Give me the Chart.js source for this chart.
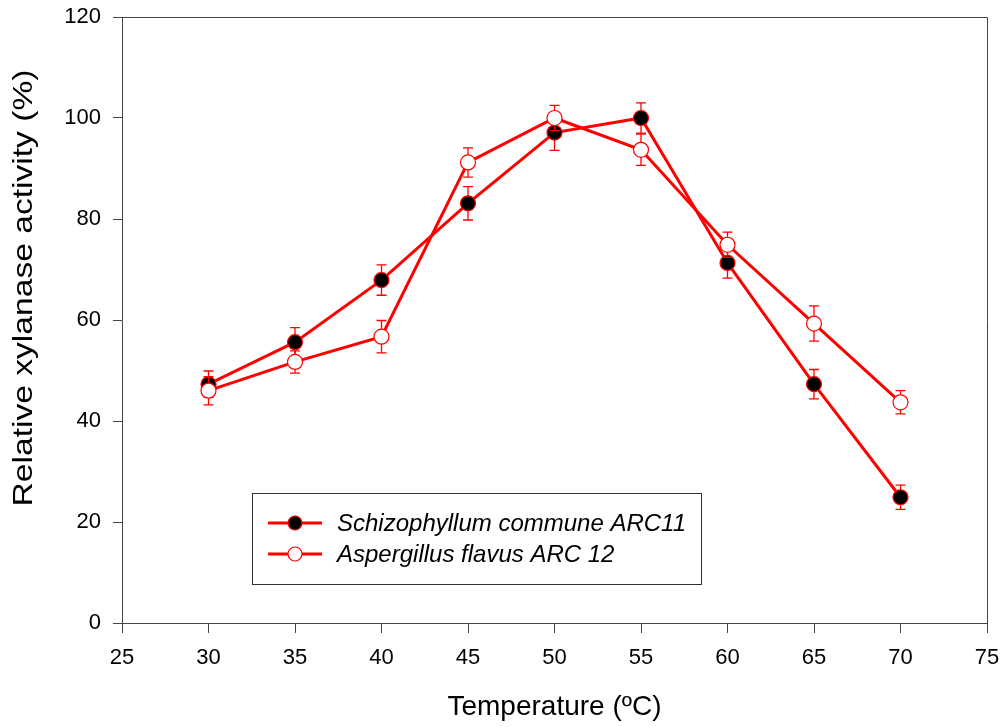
<!DOCTYPE html>
<html>
<head>
<meta charset="utf-8">
<script src="https://cdn.jsdelivr.net/npm/chart.js@4.4.0/dist/chart.umd.min.js"></script>
<style>
  html, body { margin: 0; padding: 0; background: #fff; }
</style>
</head>
<body>
<canvas id="chart" width="1001" height="727"></canvas>
<script>
// data
const temperatures = [30, 35, 40, 45, 50, 55, 60, 65, 70]
const schizoValues = [47.3, 55.6, 67.9, 83.1, 97.1, 100, 71.3, 47.3, 24.9]
const schizoErrors = [2.6, 2.9, 3.0, 3.3, 3.5, 3.0, 3.0, 2.9, 2.4]
const aspergValues = [46.0, 51.7, 56.7, 91.2, 100, 93.7, 74.9, 59.3, 43.7]
const aspergErrors = [2.8, 2.2, 3.2, 2.9, 2.5, 3.1, 2.5, 3.5, 2.3]
const seriesNames = ["Schizophyllum commune ARC11", "Aspergillus flavus ARC 12"]
const xTitle = "Temperature (ºC)"
const yTitle = "Relative xylanase activity (%)"

const FONT = '"Liberation Sans", Arial, sans-serif'
const RED = "#ff0000"
const AXIS = "#444"

// error bars, drawn just before each dataset so its own markers sit on top
const errorBars = {
  id: "errorBars",
  beforeDatasetDraw(chart, args) {
    const ds = chart.data.datasets[args.index]
    if (!ds.errors) return
    const xs = chart.scales.x, ys = chart.scales.y
    const ctx = chart.ctx
    ctx.save()
    ctx.strokeStyle = RED
    ctx.lineWidth = 1.3
    ds.data.forEach((p, i) => {
      const px = xs.getPixelForValue(p.x)
      const top = ys.getPixelForValue(p.y + ds.errors[i])
      const bot = ys.getPixelForValue(p.y - ds.errors[i])
      ctx.beginPath()
      ctx.moveTo(px, top); ctx.lineTo(px, bot)
      ctx.moveTo(px - 5, top); ctx.lineTo(px + 5, top)
      ctx.moveTo(px - 5, bot); ctx.lineTo(px + 5, bot)
      ctx.stroke()
    })
    ctx.restore()
  }
}

// top + right frame, rotated y title, boxed legend
const extras = {
  id: "extras",
  afterDraw(chart) {
    const ctx = chart.ctx
    const a = chart.chartArea
    ctx.save()
    ctx.strokeStyle = AXIS
    ctx.lineWidth = 1
    ctx.beginPath()
    ctx.moveTo(a.left, a.top + 0.5); ctx.lineTo(a.right + 0.5, a.top + 0.5)
    ctx.lineTo(a.right + 0.5, a.bottom)
    ctx.stroke()

    // y title
    ctx.save()
    ctx.translate(24, 288)
    ctx.rotate(-Math.PI / 2)
    ctx.scale(1.2, 1)
    ctx.font = "28px " + FONT
    ctx.fillStyle = "#000"
    ctx.textAlign = "center"
    ctx.textBaseline = "middle"
    ctx.fillText(yTitle, 0, 0)
    ctx.restore()

    // legend
    ctx.strokeStyle = "#333"
    ctx.strokeRect(252.5, 493.5, 449, 91)
    const rows = [523, 554]
    chart.data.datasets.slice().sort((p, q) => p.legendRow - q.legendRow).forEach((ds, i) => {
      const y = rows[i]
      ctx.strokeStyle = RED
      ctx.lineWidth = 3
      ctx.beginPath()
      ctx.moveTo(268, y); ctx.lineTo(322, y)
      ctx.stroke()
      ctx.beginPath()
      ctx.arc(295, y, 7, 0, Math.PI * 2)
      ctx.fillStyle = ds.pointBackgroundColor
      ctx.fill()
      ctx.lineWidth = 1.2
      ctx.stroke()
      ctx.fillStyle = "#000"
      ctx.font = "italic 24px " + FONT
      ctx.textAlign = "left"
      ctx.textBaseline = "middle"
      ctx.fillText(ds.label, 337, y + 1)
    })
    ctx.restore()
  }
}

const toPoints = (vals) => vals.map((v, i) => ({ x: temperatures[i], y: v }))

// drop the label overhang padding so the layout padding alone places the plot box
const noOverhang = (s) => { s.paddingTop = 0; s.paddingBottom = 0; s.paddingLeft = 0; s.paddingRight = 0 }

const chart = new Chart(document.getElementById("chart"), {
  type: "line",
  data: {
    datasets: [
      {
        label: seriesNames[0],
        data: toPoints(schizoValues),
        errors: schizoErrors,
        legendRow: 0,
        order: 1,
        borderColor: RED,
        borderWidth: 3,
        pointRadius: 7.5,
        pointBorderWidth: 1.2,
        pointBorderColor: RED,
        pointBackgroundColor: "#000",
        tension: 0
      },
      {
        label: seriesNames[1],
        data: toPoints(aspergValues),
        errors: aspergErrors,
        legendRow: 1,
        order: 0,
        borderColor: RED,
        borderWidth: 3,
        pointRadius: 7.5,
        pointBorderWidth: 1.2,
        pointBorderColor: RED,
        pointBackgroundColor: "#fff",
        tension: 0
      }
    ]
  },
  options: {
    responsive: false,
    animation: false,
    devicePixelRatio: 1,
    layout: { padding: { left: 0, right: 14, top: 17, bottom: 0 } },
    plugins: { legend: { display: false }, tooltip: { enabled: false } },
    scales: {
      x: {
        type: "linear",
        min: 25,
        max: 75,
        ticks: { stepSize: 5, color: "#000", font: { family: FONT, size: 22 }, padding: 12, maxRotation: 0 },
        grid: { drawOnChartArea: false, drawTicks: true, tickLength: 10, color: AXIS },
        border: { color: AXIS, width: 1 },
        title: { display: true, text: xTitle, color: "#000", font: { family: FONT, size: 28 }, padding: { top: 0, bottom: 3 } },
        afterFit: (s) => { s.height = 104; noOverhang(s) }
      },
      y: {
        min: 0,
        max: 120,
        ticks: { stepSize: 20, color: "#000", font: { family: FONT, size: 22 }, padding: 12 },
        grid: { drawOnChartArea: false, drawTicks: true, tickLength: 9, color: AXIS },
        border: { color: AXIS, width: 1 },
        afterFit: (s) => { s.width = 122; noOverhang(s) }
      }
    }
  },
  plugins: [errorBars, extras]
})
</script>
</body>
</html>
